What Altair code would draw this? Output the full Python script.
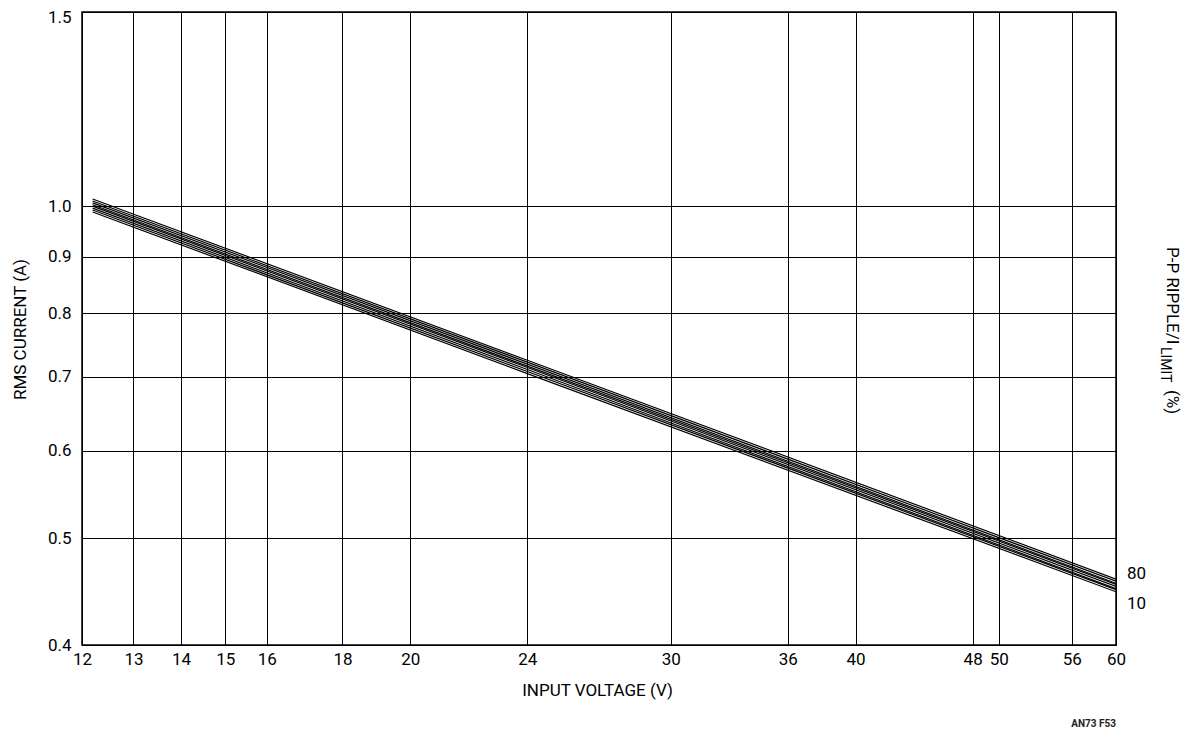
import altair as alt
import pandas as pd

# ---- data ----
voltage_points = [12.2, 24, 60]
ripple_pct = [10, 20, 30, 40, 50, 60, 70, 80]
current_10 = [0.988, 0.705, 0.447]
current_20 = [0.992, 0.708, 0.449]
current_30 = [0.996, 0.711, 0.450]
current_40 = [1.000, 0.714, 0.452]
current_50 = [1.003, 0.716, 0.454]
current_60 = [1.007, 0.719, 0.455]
current_70 = [1.011, 0.722, 0.457]
current_80 = [1.015, 0.725, 0.459]
series_currents = [current_10, current_20, current_30, current_40,
                   current_50, current_60, current_70, current_80]

x_ticks = [12, 13, 14, 15, 16, 18, 20, 24, 30, 36, 40, 48, 50, 56, 60]
y_ticks = [0.4, 0.5, 0.6, 0.7, 0.8, 0.9, 1.0, 1.5]

end_label_text = ["80", "10"]
end_label_current = [0.464, 0.436]

rows = []
for pct, cur in zip(ripple_pct, series_currents):
    for v, i in zip(voltage_points, cur):
        rows.append({"v": v, "i": i, "ripple": pct})
df = pd.DataFrame(rows)
df_lab = pd.DataFrame({"v": [60, 60], "i": end_label_current, "t": end_label_text})

W, H = 1034, 633
FONT = "Roboto, Liberation Sans, sans-serif"
FS = 17

xscale = alt.Scale(type="log", domain=[12, 60], nice=False)
yscale = alt.Scale(type="log", domain=[0.4, 1.5], nice=False)

lines = alt.Chart(df).mark_line(color="black", strokeWidth=1.2, clip=True).encode(
    x=alt.X("v:Q", scale=xscale,
            axis=alt.Axis(values=x_ticks, title="INPUT VOLTAGE (V)", format="d",
                          labelPadding=6, labelFlush=False, titleX=515, titleY=45,
                          titleBaseline="middle", titleAnchor="middle")),
    y=alt.Y("i:Q", scale=yscale,
            axis=alt.Axis(values=y_ticks, title="RMS CURRENT (A)", format=".1f",
                          labelPadding=11, labelBaseline="middle", labelFlush=False,
                          labelOffset={"condition": {"test": "datum.value >= 1.4", "value": 5},
                                       "value": 0},
                          titleX=-62, titleY=317, titleAngle=-90,
                          titleBaseline="middle", titleAnchor="middle")),
    detail="ripple:N",
)

end_labels = alt.Chart(df_lab).mark_text(
    align="left", baseline="middle", dx=11, fontSize=FS, font=FONT, color="black"
).encode(x=alt.X("v:Q", scale=xscale), y=alt.Y("i:Q", scale=yscale), text="t:N")

t_main = alt.Chart().mark_text(angle=90, align="left", baseline="alphabetic",
                               fontSize=FS, font=FONT, color="black").encode(
    x=alt.value(1085), y=alt.value(235), text=alt.value("P-P RIPPLE/I"))
t_sub = alt.Chart().mark_text(angle=90, align="left", baseline="alphabetic",
                              fontSize=14, font=FONT, color="black").encode(
    x=alt.value(1079), y=alt.value(335), text=alt.value("LIMIT"))
t_pct = alt.Chart().mark_text(angle=90, align="left", baseline="alphabetic",
                              fontSize=FS, font=FONT, color="black").encode(
    x=alt.value(1085), y=alt.value(378), text=alt.value("(%)"))
t_code = alt.Chart().mark_text(align="right", baseline="middle", fontSize=10,
                               fontWeight="bold", font=FONT, color="#222").encode(
    x=alt.value(W), y=alt.value(H + 79), text=alt.value("AN73 F53"))

chart = alt.layer(lines, end_labels, t_main, t_sub, t_pct, t_code).properties(
    width=W, height=H,
    background="white",
    autosize=alt.AutoSizeParams(type="none"),
    padding={"left": 74, "top": 4, "right": 74, "bottom": 83},
).configure_view(
    stroke="black", strokeWidth=1.5
).configure_axis(
    domain=False, ticks=False, grid=True, gridColor="black", gridWidth=1,
    gridOpacity=1, labelFont=FONT, labelFontSize=FS, labelColor="black",
    titleFont=FONT, titleFontSize=FS, titleFontWeight="normal", titleColor="black",
)

chart.save("out.html", embed_options={"renderer": "svg", "actions": False})
